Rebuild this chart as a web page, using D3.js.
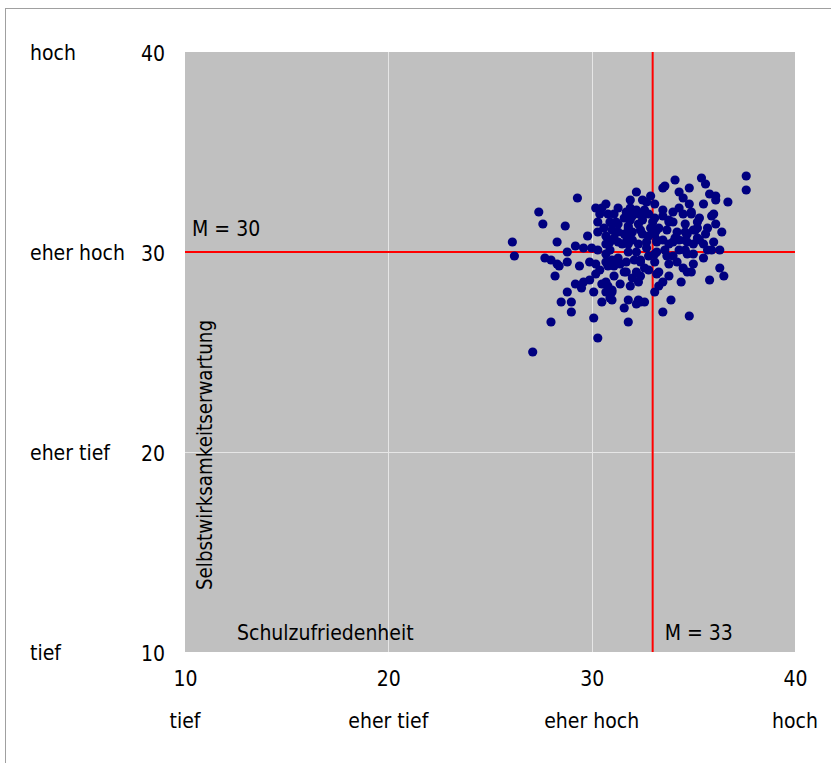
<!DOCTYPE html>
<html>
<head>
<meta charset="utf-8">
<script src="https://cdn.jsdelivr.net/npm/d3@7"></script>
<style>
  html, body { margin: 0; padding: 0; background: #ffffff; }
  svg { display: block; }
  text { font-family: "DejaVu Sans Condensed", "DejaVu Sans", sans-serif; fill: #000; }
</style>
</head>
<body>
<svg id="chart" width="831" height="763"></svg>
<script>
// Axis ticks and their verbal anchors
const xTicks = [10, 20, 30, 40];
const yTicks = [10, 20, 30, 40];
const xTickWords = ["tief", "eher tief", "eher hoch", "hoch"];
const yTickWords = ["tief", "eher tief", "eher hoch", "hoch"];

// Means drawn as reference lines
const meanX = 33; // Schulzufriedenheit
const meanY = 30; // Selbstwirksamkeitserwartung

// Individual scores: Schulzufriedenheit (x) and Selbstwirksamkeitserwartung (y)
const schulzufriedenheit = [
  26.1, 26.2, 27.4, 27.6, 27.1, 28.0, 27.7, 28.0, 28.3, 28.3, 28.2, 28.4, 28.5, 28.8, 29.0, 29.0,
  28.8, 28.8, 29.2, 28.7, 29.3, 29.6, 29.4, 29.2, 29.6, 29.5, 29.8, 29.9, 30.0, 29.9,
  30.1, 30.1, 30.3, 30.2, 30.2, 30.3, 30.3, 30.3, 30.4, 30.4, 30.5, 30.5, 30.5, 30.7, 30.7, 30.7,
  30.7, 30.7, 30.7, 30.8, 30.8, 30.8, 30.9, 30.9, 30.9, 31.0, 31.0, 31.0, 31.0, 31.0, 31.0, 31.1,
  31.1, 31.1, 31.1, 31.2, 31.3, 31.3, 31.3, 31.3, 31.4, 31.6, 31.6, 31.6, 31.6, 31.7, 31.7, 31.7,
  31.7, 31.7, 31.8, 31.8, 31.8, 31.8, 31.8, 31.9, 31.9, 31.9, 31.9, 32.0, 32.0, 32.0, 32.0, 32.1,
  32.2, 32.2, 32.2, 32.2, 32.3, 32.3, 32.3, 32.3, 32.3,
  32.4, 32.4, 32.4, 32.4, 32.5, 32.5, 32.5, 32.6, 32.6, 32.6, 32.7, 32.7, 32.7, 32.8, 32.8, 32.8,
  32.8, 32.9, 33.0, 33.1, 33.1, 33.1, 33.1, 33.1, 33.1, 33.2, 33.2, 33.2, 33.2, 33.3, 33.3, 33.3,
  33.5, 33.5, 33.5, 33.5, 33.5, 33.6, 33.6, 33.7, 33.7, 33.8, 33.8, 33.8, 33.9, 34.0, 34.0, 34.0,
  34.0, 34.1, 34.2, 34.2, 34.3, 34.3, 34.3, 34.4, 34.5, 34.5, 34.6, 34.6, 34.6, 34.7, 34.7, 34.7,
  34.7, 34.8, 34.8, 34.8, 34.9, 34.9, 35.0, 35.0, 35.0,
  35.1, 35.2, 35.2, 35.3, 35.3, 35.4, 35.5, 35.5, 35.6, 35.6, 35.7, 35.8, 35.8, 35.9, 35.9, 36.0,
  36.1, 36.1, 36.1, 36.3, 36.3, 36.4, 36.5, 36.7, 37.6, 37.6,
  30.2, 30.6, 30.9, 31.3, 31.5, 31.8, 32.2, 32.5, 32.9, 33.2, 33.5, 33.8, 34.1, 34.3, 34.6, 34.9,
  35.2, 35.5, 35.7, 36.0, 35.0, 34.5, 33.8, 32.4, 31.4, 30.7
];
const selbstwirksamkeit = [
  30.5, 29.8, 32.0, 31.4, 25.0, 26.5, 29.7, 29.6, 30.5, 29.4, 28.8, 29.3, 27.5, 28.0, 27.5, 27.0,
  29.5, 30.0, 30.3, 31.3, 32.7, 30.2, 29.3, 28.4, 28.5, 28.2, 30.8, 28.6, 30.2, 29.5,
  28.0, 26.7, 25.7, 28.9, 29.4, 30.1, 31.0, 31.5, 29.1, 31.9, 28.4, 27.5, 32.2, 32.4, 30.8, 29.9,
  28.5, 28.0, 30.4, 31.9, 29.3, 28.3, 30.5, 30.1, 27.7, 29.6, 28.1, 31.1, 28.0, 27.6, 31.4, 31.9,
  28.8, 29.3, 30.7, 31.5, 30.5, 29.7, 31.4, 32.2, 28.4, 29.0, 27.2, 31.7, 30.9, 30.8, 29.5, 32.0,
  30.5, 29.0, 30.0, 27.6, 26.5, 31.2, 30.4, 32.2, 31.6, 28.3, 32.6, 28.7, 31.8, 31.0, 30.6, 29.6,
  33.0, 30.0, 29.0, 27.4, 28.5, 27.6, 31.4, 31.9, 30.4,
  31.1, 28.8, 27.5, 29.6, 32.6, 30.9, 31.8, 27.5, 29.2, 32.1, 32.5, 30.2, 30.5, 31.9, 29.8, 29.1,
  30.8, 32.8, 31.5, 32.4, 29.5, 31.7, 29.9, 30.9, 28.0, 31.1, 30.0, 28.9, 30.5, 31.2, 29.0, 28.3,
  33.2, 31.8, 27.0, 30.6, 28.5, 33.3, 30.1, 29.8, 31.1, 31.6, 30.4, 28.8, 27.6, 29.8, 31.5, 32.0,
  30.5, 33.6, 31.0, 29.5, 33.0, 30.6, 30.1, 28.5, 32.7, 31.9, 31.4, 30.1, 30.6, 29.0, 30.5, 29.9,
  30.9, 26.8, 33.2, 32.4, 31.9, 29.0, 31.1, 29.9, 30.4,
  31.1, 31.5, 31.2, 31.7, 30.6, 33.7, 30.4, 29.7, 33.4, 30.9, 31.2, 32.9, 28.6, 30.1, 31.8, 30.5,
  32.8, 31.4, 32.6, 29.2, 30.1, 31.0, 28.8, 32.5, 33.8, 33.1,
  32.2, 31.2, 31.5, 31.0, 30.4, 31.3, 32.1, 31.6, 31.2, 30.6, 32.1, 31.5, 30.7, 32.2, 31.0, 32.0,
  30.7, 32.4, 30.1, 31.9, 29.4, 29.2, 29.4, 29.5, 29.4, 29.5
];
const points = schulzufriedenheit.map((v, i) => ({ x: v, y: selbstwirksamkeit[i] }));

const svg = d3.select("#chart");
const W = 831, H = 763;
const plot = { left: 185, right: 795, top: 52, bottom: 652 };

// Outer frame
svg.append("rect")
  .attr("x", 5.5).attr("y", 8.5)
  .attr("width", W).attr("height", H)
  .attr("fill", "none").attr("stroke", "#a0a0a0").attr("stroke-width", 1);

const x = d3.scaleLinear().domain([10, 40]).range([plot.left, plot.right]);
const y = d3.scaleLinear().domain([10, 40]).range([plot.bottom, plot.top]);

// Plot background
svg.append("rect")
  .attr("x", plot.left).attr("y", plot.top)
  .attr("width", plot.right - plot.left).attr("height", plot.bottom - plot.top)
  .attr("fill", "#c0c0c0");

// Gridlines
const grid = svg.append("g").attr("stroke", "#e6e6e6").attr("stroke-width", 1);
grid.selectAll("line.gx").data(xTicks.slice(1, -1)).join("line")
  .attr("x1", d => Math.round(x(d)) + 0.5).attr("x2", d => Math.round(x(d)) + 0.5)
  .attr("y1", plot.top).attr("y2", plot.bottom);
grid.selectAll("line.gy").data(yTicks.slice(1, -1)).join("line")
  .attr("y1", d => Math.round(y(d)) + 0.5).attr("y2", d => Math.round(y(d)) + 0.5)
  .attr("x1", plot.left).attr("x2", plot.right);

// Mean lines
svg.append("line")
  .attr("x1", plot.left).attr("x2", plot.right)
  .attr("y1", y(meanY)).attr("y2", y(meanY))
  .attr("stroke", "#ff0000").attr("stroke-width", 2);
svg.append("line")
  .attr("x1", x(meanX)).attr("x2", x(meanX))
  .attr("y1", plot.top).attr("y2", plot.bottom)
  .attr("stroke", "#ff0000").attr("stroke-width", 2);

// Data points
svg.append("g").selectAll("circle").data(points).join("circle")
  .attr("cx", d => x(d.x)).attr("cy", d => y(d.y))
  .attr("r", 4.6).attr("fill", "#000080");

const fs = 21;

// Y axis: numbers and verbal anchors
const yAxis = svg.append("g").attr("transform", `translate(${plot.left - 20},0)`)
  .call(d3.axisLeft(y).tickValues(yTicks).tickSize(0).tickPadding(0));
yAxis.select(".domain").remove();
yAxis.selectAll("text").attr("font-size", fs).attr("font-family", null)
  .attr("dy", "0.4em");
svg.append("g").selectAll("text").data(yTicks).join("text")
  .attr("x", 30).attr("y", d => y(d)).attr("dy", "0.4em")
  .attr("font-size", fs)
  .text((d, i) => yTickWords[i]);

// X axis: numbers and verbal anchors
const xAxis = svg.append("g").attr("transform", `translate(0,${plot.bottom + 34})`)
  .call(d3.axisBottom(x).tickValues(xTicks).tickSize(0).tickPadding(0));
xAxis.select(".domain").remove();
xAxis.selectAll("text").attr("font-size", fs).attr("font-family", null)
  .attr("dy", "0em");
svg.append("g").selectAll("text").data(xTicks).join("text")
  .attr("x", d => x(d)).attr("y", plot.bottom + 76)
  .attr("text-anchor", "middle")
  .attr("font-size", fs)
  .text((d, i) => xTickWords[i]);

// In-plot labels
svg.append("text").attr("x", 192).attr("y", y(meanY) - 16)
  .attr("font-size", fs).text(`M = ${meanY}`);
svg.append("text").attr("x", x(meanX) + 12).attr("y", plot.bottom - 12)
  .attr("font-size", fs).text(`M = ${meanX}`);
svg.append("text").attr("x", 237).attr("y", plot.bottom - 12)
  .attr("font-size", fs).text("Schulzufriedenheit");
svg.append("text")
  .attr("transform", "translate(212,455) rotate(-90)")
  .attr("text-anchor", "middle")
  .attr("font-size", fs).attr("textLength", 270).attr("lengthAdjust", "spacingAndGlyphs")
  .text("Selbstwirksamkeitserwartung");
</script>
</body>
</html>
